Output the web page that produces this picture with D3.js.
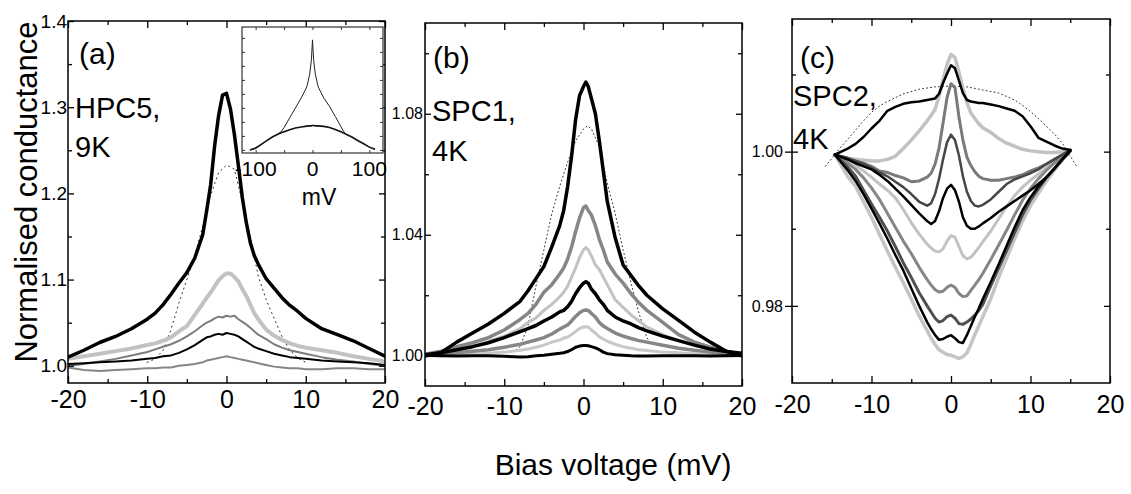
<!DOCTYPE html>
<html><head><meta charset="utf-8">
<script src="https://cdn.jsdelivr.net/npm/d3@7"></script>
<style>body{margin:0;background:#fff} svg{display:block} text{font-family:"Liberation Sans",Arial,sans-serif;fill:#000}</style>
</head><body><svg id="chart" width="1131" height="494"></svg>
<script>
// ---------- tick values ----------
const xMajor = [-20, -10, 0, 10, 20];
const xMinor = [-15, -5, 5, 15];
const aYMajor = [1.0, 1.1, 1.2, 1.3, 1.4];
const aYMinor = [1.05, 1.15, 1.25, 1.35];
const bYMajor = [1.00, 1.04, 1.08];
const bYMinor = [1.02, 1.06, 1.10];
const cYMajor = [0.98, 1.00];
const cYMinor = [0.99, 1.01];
const insetXTicks = [-100, -50, 0, 50, 100];
const insetXLabels = [-100, 0, 100];
const insetYTicks = [1.00, 1.05, 1.10, 1.15, 1.20, 1.25, 1.30, 1.35, 1.40];

// ---------- panel (a): HPC5, 9K ----------
const xa = [-20,-18,-16,-14,-12,-10,-9,-8,-7,-6,-5,-4,-3,-2.5,-2,-1.5,-1,-0.5,0,0.5,1,1.5,2,2.5,3,3.5,4,5,6,7,8,9,10,12,14,16,18,20];
const a1 = [1.010,1.018,1.027,1.034,1.043,1.054,1.061,1.071,1.083,1.096,1.108,1.125,1.152,1.180,1.210,1.255,1.290,1.314,1.316,1.298,1.268,1.232,1.195,1.166,1.143,1.128,1.118,1.101,1.090,1.079,1.070,1.063,1.055,1.043,1.036,1.029,1.020,1.011];
const a2 = [1.008,1.011,1.014,1.017,1.020,1.024,1.026,1.029,1.033,1.040,1.046,1.059,1.072,1.079,1.085,1.092,1.099,1.104,1.107,1.107,1.103,1.098,1.089,1.081,1.071,1.061,1.054,1.042,1.035,1.030,1.026,1.023,1.021,1.018,1.015,1.011,1.008,1.005];
const a3 = [1.000,1.002,1.005,1.008,1.012,1.016,1.019,1.022,1.025,1.029,1.034,1.040,1.047,1.050,1.052,1.055,1.057,1.056,1.058,1.057,1.058,1.054,1.051,1.048,1.044,1.040,1.036,1.031,1.025,1.021,1.018,1.016,1.014,1.010,1.007,1.005,1.002,1.000];
const a4 = [1.002,1.003,1.004,1.005,1.006,1.008,1.009,1.011,1.012,1.015,1.019,1.024,1.030,1.033,1.034,1.036,1.037,1.036,1.038,1.037,1.036,1.034,1.031,1.028,1.025,1.022,1.020,1.017,1.014,1.012,1.010,1.009,1.008,1.006,1.005,1.004,1.003,1.001];
const a5 = [0.998,0.995,0.994,0.995,0.996,0.997,0.997,0.998,0.998,1.000,1.001,1.002,1.004,1.006,1.007,1.008,1.009,1.010,1.011,1.010,1.009,1.008,1.007,1.006,1.005,1.004,1.003,1.001,0.999,0.998,0.997,0.997,0.996,0.996,0.997,0.997,0.996,0.996];
const xaFit = [-10,-9,-8,-7,-6,-5,-4,-3,-2,-1,0,1,2,3,4,5,6,7,8,9,10];
const aFit = [1.004,1.008,1.018,1.042,1.073,1.100,1.128,1.162,1.198,1.224,1.233,1.228,1.190,1.150,1.104,1.077,1.055,1.034,1.018,1.009,1.004];

// ---------- inset of (a) ----------
const xi = [-110,-100,-90,-80,-70,-60,-55,-50,-40,-30,-20,-10,-5,-2,0,2,5,10,20,30,40,50,55,60,70,80,90,100,110];
const iBroad = [1.000,1.006,1.020,1.034,1.047,1.057,1.061,1.065,1.072,1.078,1.082,1.085,1.086,1.086,1.087,1.087,1.086,1.086,1.084,1.080,1.073,1.065,1.060,1.055,1.045,1.033,1.022,1.010,1.002];
const iCusp = [1.000,1.008,1.020,1.033,1.046,1.058,1.066,1.080,1.115,1.150,1.185,1.225,1.270,1.320,1.393,1.320,1.270,1.225,1.185,1.155,1.120,1.083,1.065,1.055,1.046,1.034,1.022,1.010,1.002];

// ---------- panel (b): SPC1, 4K ----------
const xb = [-20,-18,-16,-14,-12,-10,-8,-7,-6,-5,-4,-3,-2.5,-2,-1.5,-1,-0.5,0,0.3,0.6,1,1.5,2,2.5,3,4,5,6,7,8,10,12,14,16,18,20];
const b1 = [1.000,1.001,1.0045,1.0075,1.0105,1.014,1.018,1.0215,1.0255,1.0295,1.036,1.043,1.048,1.056,1.066,1.078,1.086,1.089,1.0905,1.089,1.085,1.080,1.071,1.061,1.051,1.039,1.030,1.0265,1.023,1.020,1.0155,1.0117,1.0078,1.0045,1.0015,1.000];
const b2 = [1.0005,1.0015,1.003,1.0043,1.006,1.0085,1.012,1.014,1.017,1.021,1.0235,1.027,1.029,1.032,1.036,1.041,1.0455,1.049,1.0495,1.048,1.0465,1.043,1.0385,1.035,1.031,1.027,1.024,1.0205,1.0175,1.015,1.011,1.007,1.0045,1.0028,1.0015,1.0005];
const b3 = [1.0003,1.001,1.002,1.003,1.0047,1.0065,1.009,1.011,1.0125,1.015,1.017,1.0195,1.021,1.023,1.026,1.029,1.0325,1.035,1.0358,1.035,1.033,1.030,1.0285,1.026,1.0235,1.0185,1.016,1.0135,1.0115,1.0095,1.007,1.005,1.0035,1.002,1.0012,1.0005];
const b4 = [1.0003,1.001,1.002,1.003,1.0043,1.006,1.008,1.009,1.010,1.0115,1.0128,1.0145,1.015,1.0162,1.018,1.0205,1.0225,1.024,1.0245,1.024,1.022,1.0205,1.0185,1.017,1.015,1.0128,1.0115,1.0105,1.0092,1.0082,1.0065,1.005,1.0035,1.0022,1.0014,1.0008];
const b5 = [1.0000,1.0005,1.001,1.0015,1.002,1.0028,1.0038,1.0045,1.0052,1.006,1.0072,1.0088,1.0095,1.0102,1.0115,1.013,1.0142,1.015,1.0151,1.015,1.014,1.0128,1.011,1.0098,1.009,1.0075,1.0065,1.0057,1.005,1.0045,1.0035,1.0025,1.0018,1.0012,1.0007,1.0003];
const b6 = [1.0000,1.0000,1.0002,1.0005,1.0008,1.0012,1.0018,1.0022,1.0028,1.0035,1.0045,1.0052,1.0058,1.0062,1.007,1.008,1.009,1.0095,1.0096,1.0095,1.0085,1.0075,1.0062,1.0055,1.0048,1.0038,1.003,1.0025,1.002,1.0017,1.0012,1.001,1.0007,1.0004,1.0002,1.0000];
const b7 = [1.0002,1.0000,0.9999,1.0000,1.0000,0.9998,0.9996,0.9997,1.0000,1.0002,1.0005,1.0008,1.001,1.0014,1.002,1.0028,1.0032,1.0034,1.0034,1.0033,1.003,1.0026,1.002,1.0012,1.0007,1.0003,1.0002,1.0000,0.9999,0.9999,1.0000,1.0000,1.0000,0.9999,1.0000,1.0001];
const xbFit = [-8.5,-8,-7,-6,-5,-4,-3,-2,-1,0,0.5,1,2,3,4,5,6,7,8,8.5];
const bFit = [1.002,1.003,1.010,1.023,1.035,1.047,1.056,1.064,1.071,1.075,1.076,1.075,1.069,1.057,1.047,1.035,1.024,1.014,1.006,1.004];

// ---------- panel (c): SPC2, 4K ----------
const xc = [-14.6,-13,-12,-11,-10,-9,-8,-7,-6,-5,-4,-3,-2.5,-2,-1.5,-1,-0.5,0,0.5,1,1.5,2,2.5,3,3.5,4,5,6,7,8,9,10,11,12,13,14,15];
const c1 = [0.9996,1.0004,1.0010,1.0019,1.0030,1.0040,1.0053,1.0058,1.0062,1.0064,1.0065,1.0067,1.0068,1.0069,1.0075,1.0089,1.0101,1.0112,1.0108,1.0092,1.0076,1.0067,1.0065,1.0064,1.0063,1.0063,1.0061,1.0059,1.0056,1.0053,1.0046,1.0033,1.0018,1.0013,1.0008,1.0004,1.0002];
const c2 = [0.9995,0.9991,0.9990,0.9989,0.9988,0.9988,0.9990,0.9994,1.0004,1.0015,1.0027,1.0040,1.0047,1.0055,1.0072,1.0093,1.0113,1.0126,1.0122,1.0103,1.0082,1.0064,1.0050,1.0043,1.0036,1.0031,1.0025,1.0017,1.0011,1.0007,1.0003,1.0001,1.0000,0.9999,0.9999,1.0000,1.0002];
const c3 = [0.9996,0.9990,0.9988,0.9985,0.9981,0.9975,0.9973,0.9969,0.9966,0.9961,0.9962,0.9967,0.9972,0.9984,1.0005,1.0037,1.0070,1.0088,1.0083,1.0045,1.0015,0.9993,0.9982,0.9974,0.9968,0.9965,0.9963,0.9963,0.9965,0.9967,0.9970,0.9975,0.9979,0.9984,0.9990,0.9996,1.0002];
const c4 = [0.9996,0.9992,0.9988,0.9984,0.9979,0.9973,0.9968,0.9961,0.9954,0.9945,0.9935,0.9930,0.9933,0.9945,0.9965,0.9990,1.0012,1.0022,1.0015,0.9995,0.9968,0.9948,0.9936,0.9930,0.9929,0.9931,0.9938,0.9948,0.9958,0.9964,0.9968,0.9972,0.9977,0.9984,0.9990,0.9996,1.0002];
const c5 = [0.9996,0.9990,0.9985,0.9981,0.9977,0.9970,0.9962,0.9952,0.9942,0.9931,0.9920,0.9910,0.9906,0.9910,0.9923,0.9940,0.9952,0.9957,0.9950,0.9935,0.9915,0.9904,0.9900,0.9900,0.9903,0.9907,0.9914,0.9922,0.9929,0.9936,0.9943,0.9950,0.9958,0.9967,0.9978,0.9990,1.0002];
const c6 = [0.9996,0.9988,0.9982,0.9975,0.9967,0.9958,0.9950,0.9940,0.9925,0.9908,0.9893,0.9880,0.9875,0.9871,0.9870,0.9874,0.9884,0.9891,0.9889,0.9877,0.9865,0.9861,0.9863,0.9869,0.9876,0.9883,0.9897,0.9913,0.9929,0.9943,0.9954,0.9963,0.9971,0.9979,0.9987,0.9994,1.0001];
const c7 = [0.9996,0.9985,0.9977,0.9966,0.9953,0.9938,0.9920,0.9902,0.9884,0.9868,0.9850,0.9834,0.9827,0.9821,0.9818,0.9819,0.9824,0.9827,0.9824,0.9816,0.9812,0.9813,0.9820,0.9827,0.9834,0.9842,0.9860,0.9879,0.9898,0.9918,0.9937,0.9952,0.9965,0.9976,0.9985,0.9993,1.0001];
const c8 = [0.9996,0.9980,0.9968,0.9950,0.9932,0.9915,0.9897,0.9877,0.9856,0.9837,0.9817,0.9800,0.9792,0.9784,0.9779,0.9781,0.9786,0.9788,0.9784,0.9777,0.9776,0.9779,0.9783,0.9788,0.9794,0.9802,0.9826,0.9849,0.9872,0.9895,0.9918,0.9937,0.9952,0.9966,0.9978,0.9990,1.0001];
const c9 = [0.9996,0.9976,0.9962,0.9945,0.9926,0.9907,0.9887,0.9866,0.9846,0.9823,0.9800,0.9779,0.9770,0.9762,0.9756,0.9757,0.9760,0.9762,0.9758,0.9753,0.9752,0.9762,0.9774,0.9786,0.9797,0.9809,0.9831,0.9854,0.9878,0.9902,0.9924,0.9941,0.9955,0.9967,0.9978,0.9990,1.0001];
const c10 = [0.9996,0.9968,0.9955,0.9935,0.9915,0.9893,0.9871,0.9850,0.9830,0.9809,0.9787,0.9768,0.9758,0.9750,0.9743,0.9740,0.9737,0.9736,0.9734,0.9732,0.9734,0.9739,0.9750,0.9763,0.9774,0.9786,0.9809,0.9837,0.9862,0.9887,0.9910,0.9930,0.9946,0.9962,0.9976,0.9989,1.0001];
const xcFit = [-15.8,-14,-13,-12,-11,-10,-9,-8,-6,-4,-2,0,2,4,6,8,9,10,11,12,13,14,15.8];
const cFit = [0.9981,1.0004,1.0016,1.0028,1.0040,1.0051,1.0059,1.0065,1.0075,1.0081,1.0084,1.0085,1.0084,1.0080,1.0076,1.0067,1.0060,1.0052,1.0043,1.0033,1.0023,1.0011,0.9981];

// ---------- drawing ----------
const svg = d3.select('#chart');
const fmtPlain = d => String(d);
const FONT = '"Liberation Sans",Arial,sans-serif';

function zip(xs, ys){ return xs.map((x,i)=>[x, ys[i]]); }

function drawPanel(p){
  const g = svg.append('g');
  const x = d3.scaleLinear().domain(p.xd).range([p.l, p.r]);
  const y = d3.scaleLinear().domain(p.yd).range([p.b, p.t]);
  const cid = 'clip' + p.id;
  svg.append('clipPath').attr('id', cid).append('rect')
    .attr('x', p.l).attr('y', p.t).attr('width', p.r - p.l).attr('height', p.b - p.t);
  const line = d3.line().x(d => x(d[0])).y(d => y(d[1]));
  const lines = g.append('g').attr('clip-path', `url(#${cid})`);
  p.series.forEach(s => {
    lines.append('path').attr('d', line(zip(s.x, s.y)))
      .attr('fill', 'none').attr('stroke', s.c).attr('stroke-width', s.w)
      .attr('stroke-linejoin', 'round').attr('stroke-linecap', 'round')
      .attr('stroke-dasharray', s.dash || null);
  });
  const clean = a => a.call(s => s.select('.domain').remove())
                      .call(s => s.selectAll('line').attr('stroke', '#000').attr('stroke-width', 1.3));
  g.append('g').attr('transform', `translate(0,${p.b})`)
    .call(d3.axisBottom(x).tickValues(xMajor).tickSize(-7).tickPadding(p.xpad).tickFormat(fmtPlain))
    .call(clean)
    .call(s => s.selectAll('text').attr('font-size', 25).attr('font-family', FONT));
  g.append('g').attr('transform', `translate(0,${p.b})`)
    .call(d3.axisBottom(x).tickValues(xMinor).tickSize(-4).tickFormat('')).call(clean);
  g.append('g').attr('transform', `translate(0,${p.t})`)
    .call(d3.axisTop(x).tickValues(xMajor).tickSize(-7).tickFormat('')).call(clean);
  g.append('g').attr('transform', `translate(0,${p.t})`)
    .call(d3.axisTop(x).tickValues(xMinor).tickSize(-4).tickFormat('')).call(clean);
  g.append('g').attr('transform', `translate(${p.l},0)`)
    .call(d3.axisLeft(y).tickValues(p.yMajor).tickSize(-6).tickPadding(p.ypad).tickFormat(d3.format(p.yfmt)))
    .call(clean)
    .call(s => s.selectAll('text').attr('font-size', p.yfs).attr('font-family', FONT));
  if (p.outMajor) {
    g.append('g').attr('transform', `translate(${p.l},0)`)
      .call(d3.axisLeft(y).tickValues(p.yMajor).tickSize(7).tickFormat('')).call(clean);
  }
  g.append('g').attr('transform', `translate(${p.l},0)`)
    .call(d3.axisLeft(y).tickValues(p.yMinor).tickSize(-4).tickFormat('')).call(clean);
  g.append('g').attr('transform', `translate(${p.r},0)`)
    .call(d3.axisRight(y).tickValues(p.yMajor).tickSize(-6).tickFormat('')).call(clean);
  g.append('g').attr('transform', `translate(${p.r},0)`)
    .call(d3.axisRight(y).tickValues(p.yMinor).tickSize(-4).tickFormat('')).call(clean);
  g.append('rect').attr('x', p.l).attr('y', p.t).attr('width', p.r - p.l).attr('height', p.b - p.t)
    .attr('fill', 'none').attr('stroke', '#000').attr('stroke-width', 1.5);
  p.texts.forEach(t => {
    g.append('text').attr('x', t.x).attr('y', t.y).attr('font-size', t.fs).text(t.s);
  });
  return {x, y, g};
}

const LG = '#c2c2c2', MG = '#868686', DG = '#505050', BK = '#000';

drawPanel({
  id: 'a', l: 68, r: 385, t: 21, b: 383, xd: [-20, 20], yd: [0.98, 1.40],
  yMajor: aYMajor, yMinor: aYMinor, yfmt: '.1f', yfs: 19, ypad: 1, xpad: 7,
  series: [
    {x: xaFit, y: aFit, c: '#222', w: 1, dash: '1,4'},
    {x: xa, y: a5, c: MG, w: 2},
    {x: xa, y: a2, c: LG, w: 4},
    {x: xa, y: a3, c: '#7c7c7c', w: 2},
    {x: xa, y: a4, c: BK, w: 2},
    {x: xa, y: a1, c: BK, w: 3.5}
  ],
  texts: [
    {x: 79, y: 64, fs: 30, s: '(a)'},
    {x: 75, y: 118, fs: 29, s: 'HPC5,'},
    {x: 75, y: 157, fs: 29, s: '9K'}
  ]
});

// inset
(function(){
  const L = 242, R = 383, T = 27, B = 153;
  const g = svg.append('g');
  const x = d3.scaleLinear().domain([-124, 124]).range([L, R]);
  const y = d3.scaleLinear().domain([0.989, 1.439]).range([B, T]);
  g.append('rect').attr('x', L).attr('y', T).attr('width', R - L).attr('height', B - T)
    .attr('fill', '#fff').attr('stroke', '#333').attr('stroke-width', 1.2);
  const line = d3.line().x(d => x(d[0])).y(d => y(d[1]));
  g.append('path').attr('d', line(zip(xi, iBroad))).attr('fill', 'none').attr('stroke', '#111').attr('stroke-width', 1.6);
  g.append('path').attr('d', line(zip(xi, iCusp))).attr('fill', 'none').attr('stroke', '#222').attr('stroke-width', 1);
  const thin = s => s.call(q => q.select('.domain').remove()).call(q => q.selectAll('line').attr('stroke', '#333'));
  g.append('g').attr('transform', `translate(0,${B})`)
    .call(d3.axisBottom(x).tickValues(insetXTicks).tickSize(-3).tickFormat('')).call(thin);
  g.append('g').attr('transform', `translate(0,${T})`)
    .call(d3.axisTop(x).tickValues(insetXTicks).tickSize(-3).tickFormat('')).call(thin);
  g.append('g').attr('transform', `translate(${L},0)`)
    .call(d3.axisLeft(y).tickValues(insetYTicks).tickSize(-3).tickFormat('')).call(thin);
  g.append('g').attr('transform', `translate(${R},0)`)
    .call(d3.axisRight(y).tickValues(insetYTicks).tickSize(-3).tickFormat('')).call(thin);
  insetXLabels.forEach(v => {
    g.append('text').attr('x', x(v)).attr('y', 176).attr('text-anchor', 'middle').attr('font-size', 21).text(String(v));
  });
  g.append('text').attr('x', 319).attr('y', 205).attr('text-anchor', 'middle').attr('font-size', 23).text('mV');
})();

drawPanel({
  id: 'b', l: 425, r: 742, t: 23, b: 386, xd: [-20, 20], yd: [0.99, 1.11],
  yMajor: bYMajor, yMinor: bYMinor, yfmt: '.2f', yfs: 16, ypad: 2, xpad: 11,
  series: [
    {x: xbFit, y: bFit, c: '#333', w: 1, dash: '1,3'},
    {x: xb, y: b6, c: '#c8c8c8', w: 3},
    {x: xb, y: b3, c: LG, w: 3},
    {x: xb, y: b5, c: MG, w: 3.5},
    {x: xb, y: b2, c: MG, w: 3.5},
    {x: xb, y: b7, c: BK, w: 3},
    {x: xb, y: b4, c: BK, w: 3.5},
    {x: xb, y: b1, c: BK, w: 3.5}
  ],
  texts: [
    {x: 433, y: 68, fs: 30, s: '(b)'},
    {x: 432, y: 121, fs: 29, s: 'SPC1,'},
    {x: 432, y: 161, fs: 29, s: '4K'}
  ]
});

drawPanel({
  id: 'c', l: 792, r: 1110, t: 19, b: 383, xd: [-20, 20], yd: [0.97, 1.0172],
  yMajor: cYMajor, yMinor: cYMinor, yfmt: '.2f', yfs: 16, ypad: 9, xpad: 12, outMajor: true,
  series: [
    {x: xcFit, y: cFit, c: '#333', w: 1, dash: '1,3'},
    {x: xc, y: c10, c: '#c4c4c4', w: 3.5},
    {x: xc, y: c6, c: LG, w: 3},
    {x: xc, y: c2, c: LG, w: 3.5},
    {x: xc, y: c7, c: MG, w: 3},
    {x: xc, y: c3, c: '#7a7a7a', w: 3},
    {x: xc, y: c8, c: DG, w: 3},
    {x: xc, y: c4, c: '#474747', w: 2.5},
    {x: xc, y: c9, c: BK, w: 2.5},
    {x: xc, y: c5, c: BK, w: 2.5},
    {x: xc, y: c1, c: BK, w: 2.5}
  ],
  texts: [
    {x: 800, y: 68, fs: 30, s: '(c)'},
    {x: 793, y: 106, fs: 29, s: 'SPC2,'},
    {x: 793, y: 149, fs: 29, s: '4K'}
  ]
});

// axis titles
svg.append('text').attr('transform', 'translate(37,192) rotate(-90)')
  .attr('text-anchor', 'middle').attr('font-size', 31).text('Normalised conductance');
svg.append('text').attr('x', 613).attr('y', 475).attr('text-anchor', 'middle')
  .attr('font-size', 30).text('Bias voltage (mV)');
</script></body></html>
